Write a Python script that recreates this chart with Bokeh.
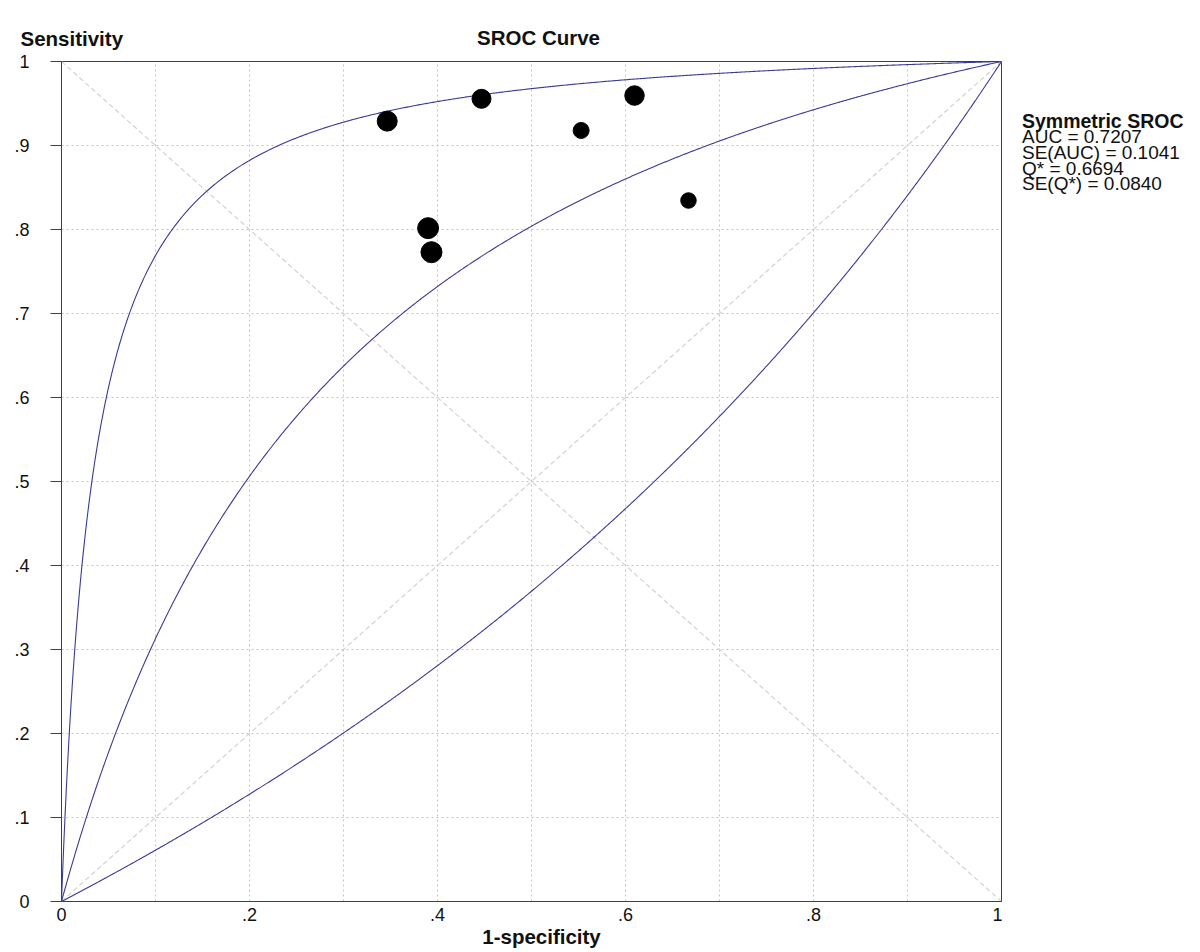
import numpy as np
from bokeh.plotting import figure
from bokeh.layouts import row
from bokeh.models import Range1d, FixedTicker, Label
from bokeh.embed import file_html
from bokeh.resources import INLINE

# ---- data ----
study_fpr = [0.3465, 0.4468, 0.6096, 0.5528, 0.3900, 0.3936, 0.6670]
study_sens = [0.929, 0.9556, 0.9595, 0.9179, 0.8016, 0.7730, 0.8345]
study_size = [20, 19, 19.5, 16, 21, 21, 15.5]

# SROC model: logit(sens) = D + logit(fpr); D for curve, upper & lower bands
sroc_D = 1.411
upper_D = 3.40
lower_D = -0.535

x_ticks = [0, 0.2, 0.4, 0.6, 0.8, 1]
x_tick_labels = ["0", ".2", ".4", ".6", ".8", "1"]
y_ticks = [0, 0.1, 0.2, 0.3, 0.4, 0.5, 0.6, 0.7, 0.8, 0.9, 1]
y_tick_labels = ["0", ".1", ".2", ".3", ".4", ".5", ".6", ".7", ".8", ".9", "1"]
grid_ticks = [0.1, 0.2, 0.3, 0.4, 0.5, 0.6, 0.7, 0.8, 0.9]

stats_title = "Symmetric SROC"
stats_lines = ["AUC = 0.7207", "SE(AUC) = 0.1041", "Q* = 0.6694", "SE(Q*) = 0.0840"]

diag_x = [0, 1]
diag_up = [0, 1]
diag_down = [1, 0]

FONT = "Liberation Sans"
TXT = "#111111"
BASE_FIX = 7  # Bokeh draws alphabetic baseline this many px lower


def sroc(fpr, D):
    e = np.exp(D)
    return fpr * e / (1 - fpr + fpr * e)


fpr = np.linspace(0, 1, 801)

p = figure(width=1002, height=952, x_range=Range1d(0, 1), y_range=Range1d(0, 1),
           output_backend="svg", toolbar_location=None, title=None,
           min_border_left=61, min_border_right=1, min_border_top=61, min_border_bottom=51)
p.background_fill_color = "white"
p.border_fill_color = "white"
p.outline_line_color = "#404040"
p.outline_line_width = 1

# grid
for g in (p.xgrid, p.ygrid):
    g.ticker = FixedTicker(ticks=grid_ticks)
    g.grid_line_color = "#c4c4c4"
    g.grid_line_dash = "2 3"
    g.grid_line_width = 1

# axes
p.xaxis.ticker = FixedTicker(ticks=x_ticks)
p.xaxis.major_label_overrides = dict(zip(x_ticks, x_tick_labels))
p.xaxis.major_tick_out = 0
p.xaxis.major_tick_in = 0
p.xaxis.minor_tick_out = 0
p.xaxis.minor_tick_in = 0
p.xaxis.major_label_standoff = 6
p.yaxis.ticker = FixedTicker(ticks=y_ticks)
p.yaxis.major_label_overrides = dict(zip(y_ticks, y_tick_labels))
p.yaxis.major_tick_out = 11
p.yaxis.major_tick_in = 0
p.yaxis.minor_tick_out = 0
p.yaxis.minor_tick_in = 0
p.yaxis.major_label_standoff = 21
for ax in (p.xaxis, p.yaxis):
    ax.axis_line_color = "#404040"
    ax.major_tick_line_color = "#404040"
    ax.major_label_text_font = FONT
    ax.major_label_text_font_size = "18px"
    ax.major_label_text_color = TXT

# diagonals
p.line(diag_x, diag_up, line_color="#d2d2d2", line_dash="5 3", line_width=1.2)
p.line(diag_x, diag_down, line_color="#d2d2d2", line_dash="5 3", line_width=1.2)

# curves
curve_color = "#3a3a96"
p.line(fpr, sroc(fpr, upper_D), line_color=curve_color, line_width=1.1)
p.line(fpr, sroc(fpr, sroc_D), line_color=curve_color, line_width=1.1)
p.line(fpr, sroc(fpr, lower_D), line_color=curve_color, line_width=1.1)

# studies
p.scatter(study_fpr, study_sens, size=study_size, marker="circle",
          fill_color="black", line_color="black")


def ylab(py):
    return (901 - (py - BASE_FIX)) / 840.0


def xlab(px):
    return (px - 61) / 940.0


p.add_layout(Label(x=xlab(20), y=ylab(45), text="Sensitivity", text_font=FONT,
                   text_font_size="20.5px", text_font_style="bold", text_color=TXT,
                   text_align="left", text_baseline="alphabetic"), "above")
p.add_layout(Label(x=xlab(538), y=ylab(43.5), text="SROC Curve", text_font=FONT,
                   text_font_size="20.5px", text_font_style="bold", text_color=TXT,
                   text_align="center", text_baseline="alphabetic"), "above")
p.add_layout(Label(x=xlab(541), y=ylab(943), text="1-specificity", text_font=FONT,
                   text_font_size="20.5px", text_font_style="bold", text_color=TXT,
                   text_align="center", text_baseline="alphabetic"), "below")

# ---- side panel with the summary statistics (same vertical frame as p) ----
side_w = 1200 - 1002
p2 = figure(width=side_w, height=952, x_range=Range1d(0, side_w), y_range=Range1d(0, 1),
            output_backend="svg", toolbar_location=None, title=None,
            x_axis_type=None, y_axis_type=None,
            min_border_left=0, min_border_right=0, min_border_top=61, min_border_bottom=51)
p2.outline_line_color = None
p2.background_fill_color = "white"
p2.border_fill_color = "white"
p2.xgrid.visible = False
p2.ygrid.visible = False

tx = 1021.5 - 1002
p2.add_layout(Label(x=tx, y=ylab(127.5), text=stats_title, text_font=FONT,
                    text_font_size="19.5px", text_font_style="bold", text_color=TXT,
                    text_align="left", text_baseline="alphabetic"))
for i, t in enumerate(stats_lines):
    p2.add_layout(Label(x=tx, y=ylab(143 + 15.8 * i), text=t, text_font=FONT,
                        text_font_size="19px", text_color=TXT,
                        text_align="left", text_baseline="alphabetic"))

layout = row(p, p2, spacing=0)
open("out.html", "w").write(file_html(layout, INLINE))
